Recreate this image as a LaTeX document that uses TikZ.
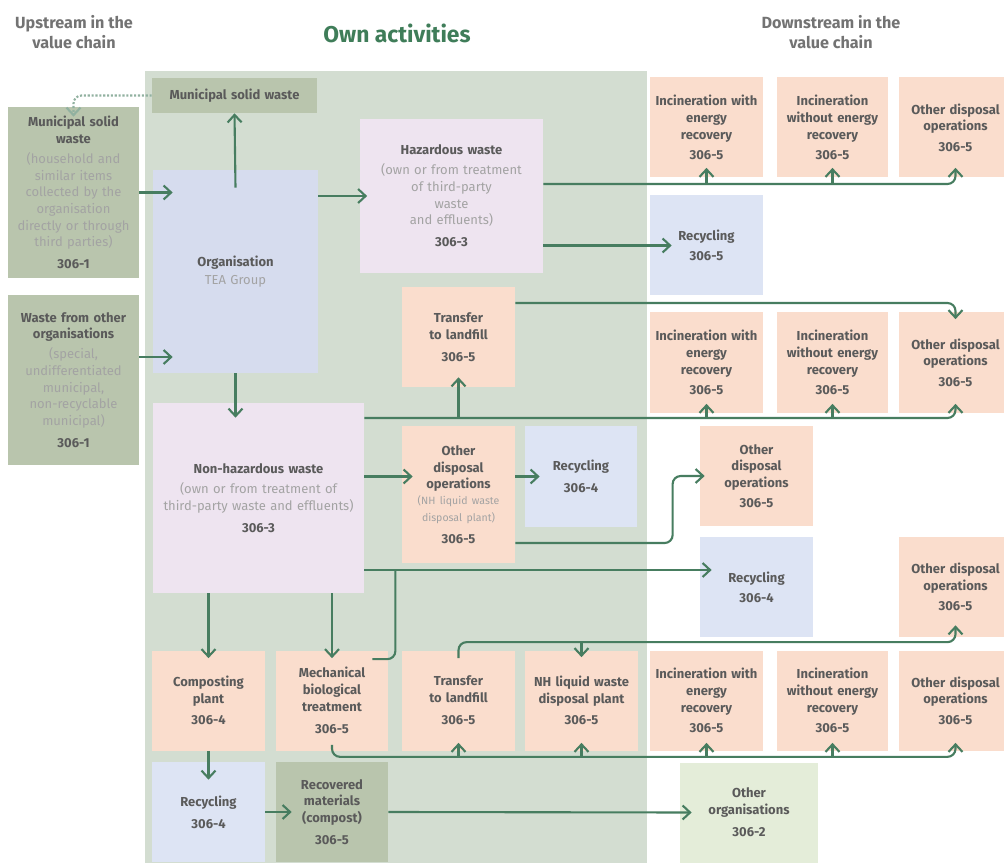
\documentclass[tikz,border=0pt]{standalone}
\usepackage{fontspec}
\setmainfont{Fira Sans}
\usetikzlibrary{arrows.meta}

\definecolor{panel}{HTML}{D3DDD1}
\definecolor{sage}{HTML}{B9C5AD}
\definecolor{peach}{HTML}{FADDCD}
\definecolor{lilac}{HTML}{EEE4F0}
\definecolor{orgblue}{HTML}{D6DCEE}
\definecolor{recblue}{HTML}{DDE4F4}
\definecolor{mint}{HTML}{E4EDD9}
\definecolor{flow}{HTML}{477D60}
\definecolor{head}{HTML}{3F7D59}
\definecolor{ink}{HTML}{5A5A5A}
\definecolor{faint}{HTML}{A3A3A3}

\newcommand\subtext[1]{{\mdseries\color{faint}#1}}

\begin{document}
\begin{tikzpicture}[x=0.2mm, y=-0.2mm, font=\fontsize{7.4}{9.5}\selectfont\bfseries, text=ink,
  box/.style={inner sep=0pt, align=center, text width=22.6mm, minimum height=20mm},
  dn/.style={box, fill=peach},
  rec/.style={box, fill=recblue},
  ttl/.style={align=center, font=\fontsize{9.2}{11}\selectfont\bfseries, text=ink!85},
  arr/.style={flow, line width=1.2pt, -{Straight Barb[length=1.5mm, width=2.8mm]}},
  ln/.style={flow, line width=1.2pt},
  rc/.style={rounded corners=1.6mm}]
\path[use as bounding box, fill=white] (0,0) rectangle (1004,863);
\fill[panel] (145,71) rectangle (647,863);

\node[ttl] (upst) at (74,32) {Upstream in the\\value chain};
\node[font=\fontsize{13}{15}\selectfont\bfseries, text=head] (own) at (397,33) {Own activities};
\node[ttl] (dnst) at (831,32) {Downstream in the\\value chain};

% upstream
\node[box, fill=sage, text width=26.2mm, minimum height=34.2mm] (mswup) at (73.5,192.5) {Municipal solid\\waste\\[2pt]\subtext{(household and\\similar items\\collected by the\\organisation\\directly or through\\third parties)}\\[3pt]306-1};
\node[box, fill=sage, text width=26.2mm, minimum height=34mm] (wfoup) at (73.5,380) {Waste from other\\organisations\\[2pt]\subtext{(special,\\undifferentiated\\municipal,\\non-recyclable\\municipal)}\\[3pt]306-1};

% own activities
\node[box, fill=sage, text width=33mm, minimum height=7mm] (mswown) at (234.5,95.5) {Municipal solid waste};
\node[box, fill=orgblue, text width=33mm, minimum height=40.6mm] (org) at (235.5,271.5) {Organisation\\[1pt]\subtext{TEA Group}};
\node[box, fill=lilac, text width=36.6mm, minimum height=30.8mm] (haz) at (451.5,196) {Hazardous waste\\[2pt]\subtext{(own or from treatment\\of third-party\\waste\\and effluents)}\\[3pt]306-3};
\node[dn] (tl1) at (458.5,337) {Transfer\\to landfill\\[3pt]306-5};
\node[box, fill=lilac, text width=42.2mm, minimum height=38mm] (nonhaz) at (258.5,498) {Non-hazardous waste\\[2pt]\subtext{(own or from treatment of\\third-party waste and effluents)}\\[3pt]306-3};
\node[dn, minimum height=27.4mm] (odo) at (458.5,494.5) {Other\\disposal\\operations\\[1pt]\subtext{\fontsize{6}{8}\selectfont(NH liquid waste\\disposal plant)}\\[3pt]306-5};
\node[rec, text width=22.4mm] (rec4a) at (581,476.5) {Recycling\\[3pt]306-4};
\node[dn] (comp) at (208.5,700.5) {Composting\\plant\\[3pt]306-4};
\node[dn, text width=22.4mm] (mbt) at (332,700.5) {Mechanical\\biological\\treatment\\[3pt]306-5};
\node[dn] (tl2) at (458.5,700.5) {Transfer\\to landfill\\[3pt]306-5};
\node[dn] (nhl) at (581.5,700.5) {NH liquid waste\\disposal plant\\[3pt]306-5};
\node[rec] (rec4b) at (208.5,812) {Recycling\\[3pt]306-4};
\node[box, fill=sage, text width=22.4mm] (recmat) at (332,812) {Recovered\\materials\\(compost)\\[3pt]306-5};

% downstream
\node[dn] (incw1) at (706.5,127.5) {Incineration with\\energy\\recovery\\[2pt]306-5};
\node[dn, text width=22.2mm] (incwo1) at (832.5,127.5) {Incineration\\without energy\\recovery\\[2pt]306-5};
\node[dn] (odo1) at (955.5,127.5) {Other disposal\\operations\\[2pt]306-5};
\node[rec] (rec5) at (706.5,245.5) {Recycling\\[2pt]306-5};
\node[dn] (incw2) at (706.5,362.5) {Incineration with\\energy\\recovery\\[2pt]306-5};
\node[dn, text width=22.2mm] (incwo2) at (832.5,362.5) {Incineration\\without energy\\recovery\\[2pt]306-5};
\node[dn] (odo2) at (955.5,362.5) {Other disposal\\operations\\[2pt]306-5};
\node[dn] (odo3) at (756.5,476) {Other\\disposal\\operations\\[2pt]306-5};
\node[rec] (rec4c) at (756.5,587) {Recycling\\[2pt]306-4};
\node[dn] (odo4) at (955.5,587) {Other disposal\\operations\\[2pt]306-5};
\node[dn] (incw3) at (706.5,700.5) {Incineration with\\energy\\recovery\\[2pt]306-5};
\node[dn, text width=22.2mm] (incwo3) at (832.5,700.5) {Incineration\\without energy\\recovery\\[2pt]306-5};
\node[dn] (odo5) at (955.5,700.5) {Other disposal\\operations\\[2pt]306-5};
\node[box, fill=mint, text width=27.6mm] (othorg) at (749,812.5) {Other\\organisations\\[3pt]306-2};

% flows into and out of the organisation
\draw[arr, densely dotted, flow!60, rc] (mswown.west) -| ([yshift=-2mm]mswup.north);
\draw[arr] ([yshift=-3.6mm]org.north) -- (mswown.south);
\draw[arr] (mswup.east) -- ([xshift=4mm]org.west |- mswup.east);
\draw[arr] ([yshift=4.6mm]wfoup.east) -- ([xshift=4mm,yshift=4.6mm]org.west |- wfoup.east);
\draw[arr] (org.east |- haz.west) -- ([xshift=1.5mm]haz.west);
\draw[arr] (org.south) -- ([yshift=-3mm]org.south |- nonhaz.north);

% hazardous waste
\coordinate (h1) at ([yshift=2.4mm]haz.east);
\draw[arr, rc] (h1) -| ([yshift=2mm]odo1.south);
\draw[arr] (incw1.south |- h1) -- ([yshift=2mm]incw1.south);
\draw[arr] (incwo1.south |- h1) -- ([yshift=2mm]incwo1.south);
\draw[arr] (haz.east |- rec5.west) -- ([xshift=4.4mm]rec5.west);
\draw[arr, rc] ([yshift=6.8mm]tl1.east) -| ([yshift=-1.4mm]odo2.north);

% non-hazardous waste
\coordinate (n1) at ([yshift=16mm]nonhaz.east);
\draw[arr, rc] (n1) -| ([yshift=1.8mm]odo2.south);
\draw[arr] (tl1.south |- n1) -- ([yshift=2mm]tl1.south);
\draw[arr] (incw2.south |- n1) -- ([yshift=1.8mm]incw2.south);
\draw[arr] (incwo2.south |- n1) -- ([yshift=1.8mm]incwo2.south);
\draw[arr] (nonhaz.east |- rec4a.west) -- ([xshift=2.2mm]odo.west |- rec4a.west);
\draw[arr] (odo.east |- rec4a.west) -- ([xshift=3mm]rec4a.west);
\draw[arr, rc] ([yshift=-9.7mm]odo.east) -| ([xshift=-5.4mm]odo3.west) -- ([xshift=1mm]odo3.west);
\coordinate (n2) at ([yshift=-14.4mm]nonhaz.east);
\draw[arr] (n2) -- ([xshift=2.4mm]rec4c.west |- n2);
\draw[ln, rc] ([xshift=1.4mm]mbt.east |- n2) |- ([xshift=-3.2mm,yshift=-1.8mm]mbt.north east);
\draw[arr] (comp.north |- nonhaz.south) -- ([yshift=-1.6mm]comp.north);
\draw[arr] (mbt.north |- nonhaz.south) -- ([yshift=-1.6mm]mbt.north);

% treatment plants
\coordinate (t1) at ([yshift=1.6mm]tl2.north);
\draw[arr, rc] ([yshift=-1.6mm]tl2.north) |- (t1 -| odo4.south) -- ([yshift=2.4mm]odo4.south);
\draw[arr] (nhl.north |- t1) -- ([yshift=-1.4mm]nhl.north);
\coordinate (m1) at ([yshift=-1.2mm]mbt.south);
\draw[arr, rc] ([yshift=1.2mm]mbt.south) |- (m1 -| odo5.south) -- ([yshift=1.6mm]odo5.south);
\draw[arr] (tl2.south |- m1) -- ([yshift=1.6mm]tl2.south);
\draw[arr] (nhl.south |- m1) -- ([yshift=1.6mm]nhl.south);
\draw[arr] (incw3.south |- m1) -- ([yshift=1.6mm]incw3.south);
\draw[arr] (incwo3.south |- m1) -- ([yshift=1.6mm]incwo3.south);
\draw[arr] (comp.south) -- ([yshift=-3.6mm]rec4b.north);
\draw[arr] (rec4b.east) -- ([xshift=3.2mm]recmat.west);
\draw[arr] (recmat.east) -- ([xshift=2.4mm]othorg.west);
\end{tikzpicture}
\end{document}
